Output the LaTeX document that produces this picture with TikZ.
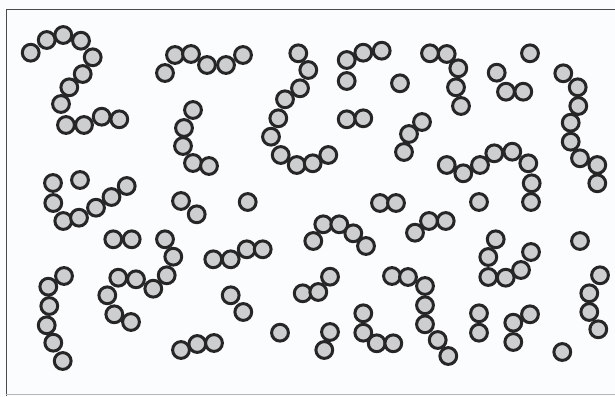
\documentclass[tikz,border=0pt]{standalone}
\definecolor{ringc}{HTML}{262626}
\definecolor{fillc}{HTML}{CCCED0}
\definecolor{framec}{HTML}{4A4A4A}
\definecolor{paperc}{HTML}{FAFCFD}
\begin{document}
\begin{tikzpicture}[x=1pt,y=-1pt,
  bead/.style={draw=ringc,fill=fillc,line width=3pt},
  frameline/.style={draw=framec,line width=1pt}]
\fill[paperc] (0,0) rectangle (615,396);
\useasboundingbox (0,0) rectangle (615,396);
\draw[frameline] (615,10) -- (6,10) -- (6,396);
\draw[draw=framec!40,line width=0.8pt] (6,394.5) -- (615,394.5);
\foreach \x/\y in {
 30.7/52.7, 46.7/40, 63.3/35, 81/40.7, 92.7/57.3, 82.7/74, 69.3/87.3, 61/104, 66/125, 84/125, 101.7/116.7, 119.3/119.3,
 165/73, 175/55, 191/54, 207/65, 226/65, 243/55,
 193/110, 184/128, 183/146, 193/163, 209/166,
 298.3/53.3, 308.3/70, 300/88.3, 285/99.3, 278.3/118.3, 271/136.7, 280.7/155, 296.7/165, 312.7/163.3, 328.3/155,
 346.7/60, 363.3/52.7, 381.7/50.7, 346.7/81,
 400/83.3,
 346.7/119.3, 363.3/118.3,
 422/122, 409/134, 404/152,
 430/53.3, 446.7/54, 458.3/68.3, 456/87.3, 461/106,
 530/53.3,
 496.7/72.7, 506/91.7, 523.3/91.7,
 563.3/73.3, 577.7/87.3, 578.3/106, 570.7/122.7, 570.7/141.7, 580/158.3, 597.3/165, 597.3/183.3,
 446.7/165, 463.3/173.3, 480/165, 494.3/153.3, 512.3/151.7, 528.3/163.3, 531.7/183.3, 531/202,
 479/202,
 415/232.7, 429/221, 445.7/221,
 495.7/239.3, 488.3/257, 488.3/277, 505.7/277.7, 521/270, 531/252,
 580/241,
 392/276, 408/277, 425/286, 425/305.3, 425/324.3, 437.7/340, 448.3/356,
 479/313.3, 479/332.7,
 530/314.3, 513.3/322.7, 513.3/342,
 600/275.3, 589.3/293.3, 589.3/312, 598.3/329.3,
 562.3/352,
 53/183, 80/180,
 53.3/203, 63.3/221, 79/217.7, 96/207.7, 111.5/197, 126.7/186,
 113.3/239.3, 131.7/239.3,
 165/239.3, 173.3/256.7, 166.7/275.3, 153.3/288.7, 136/279.3, 118.3/277.7, 107.3/295.3, 114.3/314.3, 131/322,
 64/276, 48.3/286.7, 49.3/306, 46.7/325.3, 53.3/342.7, 62.7/361,
 181/201, 196.7/214.3,
 181/350, 197.3/344, 214/343,
 247.7/202,
 213.3/259.3, 230.7/259.3, 246.7/249.3, 262.7/249.3,
 230.7/295.3, 243.3/312,
 280/332.7,
 313.3/241, 323.3/224.3, 339.3/224.3, 353.3/233.3, 366/246,
 302.7/293.3, 318.3/292, 330/276.7,
 330/332, 324.3/350,
 363.3/313.3, 363.3/332.7, 376.7/343.3, 393.3/343.3,
 380/203, 396/203}
 \draw[bead] (\x,\y) circle[radius=8.4];
\end{tikzpicture}
\end{document}
